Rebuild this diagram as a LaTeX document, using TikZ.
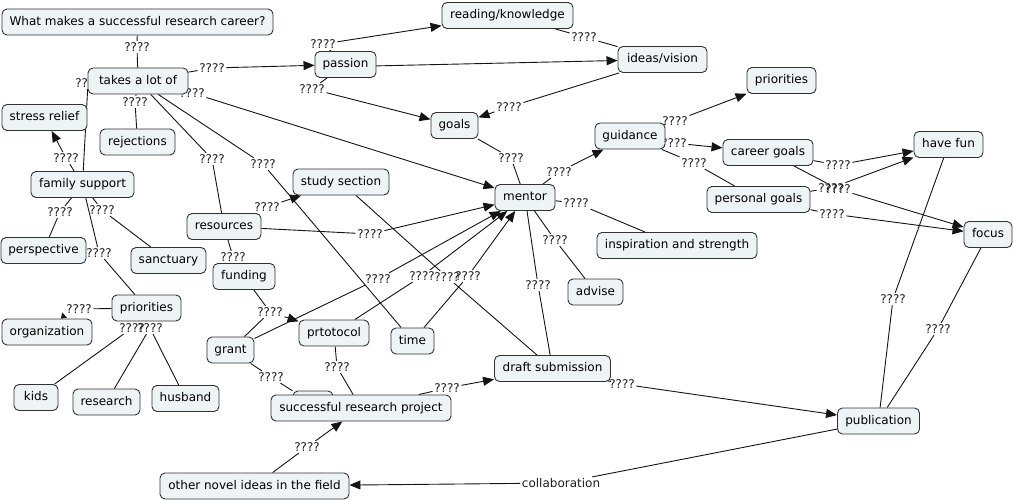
\documentclass[tikz,border=0pt]{standalone}
\usepackage{fontspec}
\setmainfont{DejaVu Sans}
\usetikzlibrary{arrows.meta}
\pgfdeclarelayer{bg}
\pgfsetlayers{bg,main}
\definecolor{nfill}{RGB}{238,243,245}
\definecolor{nline}{RGB}{50,50,50}
\definecolor{ecol}{RGB}{20,20,20}
\definecolor{labc}{RGB}{30,30,30}
\begin{document}
\begin{tikzpicture}[x=1pt,y=-1pt,
 cnode/.style={draw=nline, line width=0.9pt, rounded corners=5pt, fill=nfill,
   font=\fontsize{12}{14}\selectfont, minimum height=26pt, inner xsep=5pt, inner ysep=0pt,
   text height=9pt, text depth=2.5pt},
 boxw/.style={minimum width=#1pt},
 lab/.style={font=\fontsize{12}{14}\selectfont, inner sep=1.5pt, text height=8.8pt, text depth=0pt, text=labc},
 edge/.style={line width=0.9pt, draw=ecol},
 arr/.style={edge, -{Triangle[length=11pt,width=9pt]}},
 smallarr/.style={edge, -{Triangle[length=5pt,width=7pt]}}]
\useasboundingbox (0,0) rectangle (1014,500);

% link labels
\node[lab] (lq) at (137,47) {????};
\node[lab] (lfs) at (88,83) {????};
\node[lab] (lpas) at (212,68) {????};
\node[lab] (lrej) at (135,102) {????};
\node[lab] (lmen1) at (192,93) {????};
\node[lab] (lres) at (212,159) {????};
\node[lab] (ltime) at (263,164) {????};
\node[lab] (lsr) at (66,158) {????};
\node[lab] (lper) at (60,212) {????};
\node[lab] (lsan) at (102,210) {????};
\node[lab] (lpr1) at (99,253) {????};
\node[lab] (lorg) at (79,309) {????};
\node[lab] (lkids) at (132,328) {????};
\node[lab] (lrsch) at (150,328) {????};
\node[lab] (lss) at (267,207) {????};
\node[lab] (lmen2) at (370,234) {????};
\node[lab] (lfund) at (233,257) {????};
\node[lab] (lgr) at (270,312) {????};
\node[lab] (lmen3) at (378,279) {????};
\node[lab] (lmen4) at (422,276) {????};
\node[lab] (ldr1) at (447,277) {????};
\node[lab] (lmen5) at (468,276) {????};
\node[lab] (lgm) at (511,158) {????};
\node[lab] (lgd) at (559,172) {????};
\node[lab] (lins) at (576,203) {????};
\node[lab] (ladv) at (555,240) {????};
\node[lab] (ldr2) at (538,285) {????};
\node[lab] (lrk) at (323,44) {????};
\node[lab] (liv) at (327,67) {????};
\node[lab] (lpg) at (312,89) {????};
\node[lab] (lri) at (584,37) {????};
\node[lab] (lig) at (509,107) {????};
\node[lab] (lpri2) at (675,121) {????};
\node[lab] (lcg) at (674,143) {????};
\node[lab] (lpg2) at (694,163) {????};
\node[lab] (lhf1) at (838,165) {????};
\node[lab] (lhf2) at (831,188) {????};
\node[lab] (lfc1) at (838,189) {????};
\node[lab] (lfc2) at (832,214) {????};
\node[lab] (lphf) at (893,299) {????};
\node[lab] (lpfc) at (938,329) {????};
\node[lab] (lpub) at (622,384) {????};
\node[lab] (ldrs) at (447,388) {????};
\node[lab] (lhid) at (271,377) {????};
\node[lab] (lsuc) at (337,367) {????};
\node[lab] (loth) at (307,447) {????};
\node[lab] (lcol) at (561,483) {collaboration};

% concepts
\node[cnode,boxw=271] (q) at (137.5,22) {What makes a successful research career?};
\node[cnode,boxw=100] (takes) at (138,81) {takes a lot of};
\node[cnode,boxw=61] (passion) at (345.5,64.5) {passion};
\node[cnode,boxw=131] (reading) at (507.5,15.5) {reading/knowledge};
\node[cnode,boxw=89] (ideas) at (662.5,59.5) {ideas/vision};
\node[cnode,boxw=47] (goals) at (454.5,125.5) {goals};
\node[cnode,boxw=70] (guidance) at (630,136) {guidance};
\node[cnode,boxw=69] (prio2) at (781.5,80.5) {priorities};
\node[cnode,boxw=90] (career) at (768,152.5) {career goals};
\node[cnode,boxw=103] (personal) at (758.5,199.5) {personal goals};
\node[cnode,boxw=69] (havefun) at (948.5,144.5) {have fun};
\node[cnode,boxw=48] (focus) at (988,234.5) {focus};
\node[cnode,boxw=160] (insp) at (677,245.5) {inspiration and strength};
\node[cnode,boxw=60] (mentor) at (525,197.5) {mentor};
\node[cnode,boxw=55] (advise) at (595.5,292) {advise};
\node[cnode,boxw=96] (study) at (341,182) {study section};
\node[cnode,boxw=74] (resources) at (224,226.5) {resources};
\node[cnode,boxw=62] (funding) at (244,276.5) {funding};
\node[cnode,boxw=47] (grant) at (230.5,350) {grant};
\node[cnode,boxw=70] (prtotocol) at (334,333) {prtotocol};
\node[cnode,boxw=43] (time) at (412.5,341) {time};
\node[cnode,boxw=116] (draft) at (552.5,368.5) {draft submission};
\node[cnode,boxw=40] (hid) at (313,404) {};
\node[cnode,boxw=180] (success) at (361,408) {successful research project};
\node[cnode,boxw=189] (other) at (254.5,486) {other novel ideas in the field};
\node[cnode,boxw=82] (publication) at (878.5,421) {publication};
\node[cnode,boxw=85] (stress) at (44.5,117.5) {stress relief};
\node[cnode,boxw=75] (rejections) at (137.5,142) {rejections};
\node[cnode,boxw=103] (family) at (82.5,184.5) {family support};
\node[cnode,boxw=85] (perspective) at (43.5,250.5) {perspective};
\node[cnode,boxw=75] (sanctuary) at (168.5,260.5) {sanctuary};
\node[cnode,boxw=69] (prio1) at (146.5,308) {priorities};
\node[cnode,boxw=90] (organization) at (47,332) {organization};
\node[cnode,boxw=44] (kids) at (36,397.5) {kids};
\node[cnode,boxw=67] (research) at (106.5,402) {research};
\node[cnode,boxw=67] (husband) at (185.5,398.5) {husband};

\begin{pgfonlayer}{bg}
\draw[edge] (q) -- (lq); \draw[edge] (lq) -- (takes);
\draw[edge] (lfs) -- (family);
\draw[edge] (takes) -- (lpas); \draw[arr] (lpas) -- (passion);
\draw[edge] (takes) -- (lrej); \draw[edge] (lrej) -- (rejections);
\draw[arr] (lmen1) -- (mentor);
\draw[edge] (takes) -- (lres); \draw[edge] (lres) -- (resources);
\draw[edge] (takes) -- (ltime); \draw[edge] (ltime) -- (time);
\draw[edge] (family) -- (lsr); \draw[arr] (lsr) -- (stress);
\draw[edge] (family) -- (lper); \draw[edge] (lper) -- (perspective);
\draw[edge] (family) -- (lsan); \draw[edge] (lsan) -- (sanctuary);
\draw[edge] (family) -- (lpr1); \draw[edge] (lpr1) -- (prio1);
\draw[edge] (prio1) -- (lorg); \draw[smallarr] (lorg.south west) -- (organization);
\draw[edge] (lkids) -- (kids);
\draw[edge] (lrsch) -- (research);
\draw[edge] (lrsch) -- (husband);
\draw[edge] (resources) -- (lss); \draw[arr] (lss) -- (study);
\draw[edge] (resources) -- (lmen2); \draw[arr] (lmen2) -- (mentor);
\draw[edge] (resources) -- (lfund);
\draw[edge] (funding) -- (lgr); \draw[edge] (lgr) -- (grant); \draw[arr] (lgr) -- (prtotocol);
\draw[edge] (grant) -- (lmen3); \draw[arr] (lmen3) -- (mentor);
\draw[edge] (prtotocol) -- (lmen4); \draw[arr] (lmen4) -- (mentor);
\draw[edge] (study) -- (ldr1); \draw[edge] (ldr1) -- (draft);
\draw[edge] (time) -- (lmen5); \draw[arr] (lmen5) -- (mentor);
\draw[edge] (goals) -- (lgm); \draw[edge] (lgm) -- (mentor);
\draw[edge] (mentor) -- (lgd); \draw[arr] (lgd) -- (guidance);
\draw[edge] (mentor) -- (lins); \draw[edge] (lins) -- (insp);
\draw[edge] (mentor) -- (ladv); \draw[edge] (ladv) -- (advise);
\draw[edge] (mentor) -- (ldr2); \draw[edge] (ldr2) -- (draft);
\draw[edge] (passion) -- (lrk); \draw[arr] (lrk) -- (reading);
\draw[arr] (liv) -- (ideas);
\draw[edge] (passion) -- (lpg); \draw[arr] (lpg) -- (goals);
\draw[edge] (reading) -- (lri); \draw[edge] (lri) -- (ideas);
\draw[edge] (ideas) -- (lig); \draw[arr] (lig) -- (goals);
\draw[edge] (guidance) -- (lpri2); \draw[arr] (lpri2) -- (prio2);
\draw[arr] (lcg) -- (career);
\draw[edge] (guidance) -- (lpg2); \draw[edge] (lpg2) -- (personal);
\draw[edge] (career) -- (lhf1); \draw[arr] (lhf1) -- (havefun);
\draw[edge] (career) -- (lfc1); \draw[arr] (lfc1) -- (focus);
\draw[edge] (personal) -- (lhf2); \draw[arr] (lhf2) -- (havefun);
\draw[edge] (personal) -- (lfc2); \draw[arr] (lfc2) -- (focus);
\draw[edge] (publication) -- (lphf); \draw[edge] (lphf) -- (havefun);
\draw[edge] (publication) -- (lpfc); \draw[edge] (lpfc) -- (focus);
\draw[edge] (draft) -- (lpub); \draw[arr] (lpub) -- (publication);
\draw[edge] (success) -- (ldrs); \draw[arr] (ldrs) -- (draft);
\draw[edge] (grant) -- (lhid); \draw[edge] (lhid) -- (hid);
\draw[edge] (prtotocol) -- (lsuc); \draw[edge] (lsuc) -- (success);
\draw[edge] (other) -- (loth); \draw[arr] (loth) -- (success);
\draw[edge] (publication) -- (lcol); \draw[arr] (lcol) -- (other);
\end{pgfonlayer}
\end{tikzpicture}
\end{document}
